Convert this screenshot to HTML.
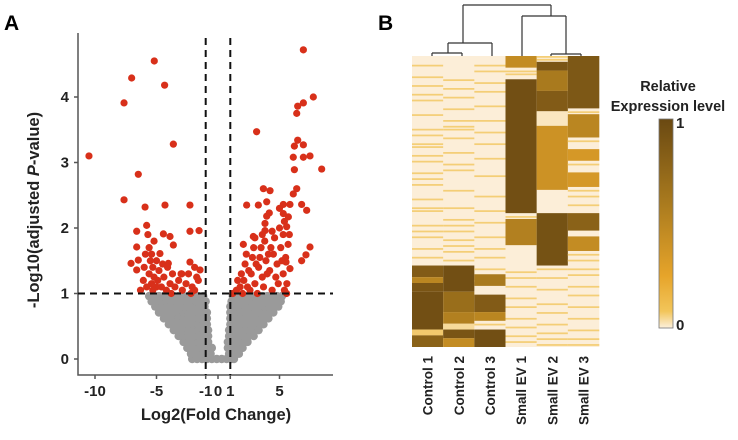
<!DOCTYPE html>
<html><head><meta charset="utf-8">
<style>
html,body{margin:0;padding:0;background:#fff;width:738px;height:440px;overflow:hidden}
svg{display:block;font-family:"Liberation Sans",Arial,sans-serif;font-weight:bold}
</style></head>
<body>
<svg id="fig" width="738" height="440" viewBox="0 0 738 440">
<defs>
<linearGradient id="cbar" x1="0" y1="1" x2="0" y2="0">
<stop offset="0" stop-color="#fcf0dc"/><stop offset="0.08" stop-color="#f2c55a"/>
<stop offset="0.25" stop-color="#e6a42a"/><stop offset="0.6" stop-color="#a97a1e"/>
<stop offset="1" stop-color="#6a4912"/></linearGradient>
</defs>
<text x="4" y="30" font-size="21">A</text>
<text x="378" y="30" font-size="21">B</text>
<g id="volcano"></g>
<g id="heat"></g>
</svg>
<script>
// ---------- Volcano data ----------
const xTicks = [-10, -5, -1, 0, 1, 5];
const yTicks = [0, 1, 2, 3, 4];
const redX = [6.94,-5.18,-7.02,-4.34,-7.64,7.75,6.94,6.48,6.40,-10.49,-3.63,3.14,6.48,6.21,6.94,6.12,6.94,7.48,8.43,-6.48,6.21,-7.64,-4.31,-2.28,-5.93,2.33,3.28,3.69,4.23,3.96,4.17,5.31,5.85,6.80,7.21,6.12,6.40,-6.61,-5.80,-4.44,-3.90,-2.28,-1.54,2.06,2.87,3.96,7.48,7.15,6.80,5.53,3.82,3.82,5.58,5.72,5.31,-6.61,-7.07,-6.48,-4.72,-3.63,-4.04,-2.95,-2.28,-1.46,-1.73,-6.07,-6.61,5.58,5.85,
-5.6,-5.4,-5.5,-5.3,-5.6,-5.2,-5.4,-5.0,-5.3,-4.9,-4.8,-5.0,-4.6,-4.4,-4.2,-3.9,-3.7,-3.5,-3.2,-2.9,-2.6,-2.4,-2.1,-1.9,-1.6,-5.8,-6.0,-5.9,-4.5,-3.8,-2.2,-6.3,-5.7,-5.2,-4.1,-3.0,-1.9,
1.5,1.8,2.1,2.4,2.7,3.0,3.3,3.6,3.9,4.2,4.5,4.8,5.1,5.3,5.0,4.6,4.3,4.0,3.7,3.4,3.1,2.8,2.5,2.2,1.9,1.6,2.0,2.6,3.2,4.4,4.9,5.3,5.5,5.7,5.6,5.4,4.1,3.5,2.9,4.7,5.2,5.8,3.0,3.6,4.4,5.0,5.4,1.2,2.3,3.8];
const redY = [4.72,4.55,4.29,4.18,3.91,4.0,3.91,3.86,3.75,3.10,3.28,3.47,3.34,3.25,3.27,3.08,3.08,3.10,2.90,2.82,2.89,2.43,2.35,2.35,2.32,2.35,2.35,2.60,2.57,2.40,2.23,2.36,2.36,2.36,2.27,2.52,2.60,1.95,2.04,1.91,1.87,1.95,1.96,1.75,1.87,2.18,1.71,1.59,1.50,1.48,1.96,2.07,2.02,2.17,2.22,1.71,1.46,1.51,1.61,1.74,1.46,1.30,1.48,1.36,1.25,1.20,1.36,1.00,1.38,
1.7,1.6,1.5,1.4,1.3,1.25,1.15,1.1,1.05,1.2,1.35,1.5,1.1,1.25,1.05,1.15,1.3,1.1,1.2,1.05,1.15,1.3,1.1,1.05,1.2,1.1,1.4,1.6,1.45,1.0,1.0,1.05,1.9,1.8,1.4,1.3,1.4,
1.05,1.1,1.2,1.1,1.3,1.15,1.4,1.25,1.5,1.35,1.6,1.45,1.7,1.9,2.0,1.85,1.7,1.3,1.1,1.55,1.45,1.55,1.35,1.45,1.3,1.2,1.0,1.05,1.0,1.05,1.15,1.3,1.55,1.75,1.15,1.05,1.6,1.7,1.7,1.25,1.5,1.9,1.85,1.9,1.95,2.3,2.1,1.0,1.6,1.8];
const grayLevels = [0,0.08,0.17,0.26,0.35,0.44,0.53,0.62,0.71,0.8,0.88,0.96];
const grayXs = [
 [-2.1,-1.7,-1.3,-0.9,-0.5,-0.1,0.3,0.7,1.1,1.3],
 [-2.2,-1.8,-1.4,-1.0,-0.6,0.9,1.3,1.7],
 [-2.5,-2.1,-1.7,-1.3,-0.9,-0.5,0.8,1.2,1.6,2.0],
 [-2.8,-2.4,-2.0,-1.6,-1.2,-0.8,0.8,1.2,1.6,2.0,2.4],
 [-3.2,-2.8,-2.4,-2.0,-1.6,-1.2,-0.8,0.9,1.3,1.7,2.1,2.5,2.9],
 [-3.6,-3.2,-2.8,-2.4,-2.0,-1.6,-1.2,-0.8,0.9,1.3,1.7,2.1,2.5,2.9,3.3],
 [-4.0,-3.6,-3.2,-2.8,-2.4,-2.0,-1.6,-1.2,-0.9,1.0,1.4,1.8,2.2,2.6,3.0,3.4,3.7],
 [-4.4,-4.0,-3.6,-3.2,-2.8,-2.4,-2.0,-1.6,-1.2,-0.9,1.0,1.4,1.8,2.2,2.6,3.0,3.4,3.8,4.1],
 [-4.8,-4.4,-4.0,-3.6,-3.2,-2.8,-2.4,-2.0,-1.6,-1.2,-0.9,1.0,1.4,1.8,2.2,2.6,3.0,3.4,3.8,4.2,4.5],
 [-5.1,-4.7,-4.3,-3.9,-3.5,-3.1,-2.7,-2.3,-1.9,-1.5,-1.1,1.0,1.4,1.8,2.2,2.6,3.0,3.4,3.8,4.2,4.6,4.9],
 [-5.4,-5.0,-4.6,-4.2,-3.8,-3.4,-3.0,-2.6,-2.2,-1.8,-1.4,-1.0,1.1,1.5,1.9,2.3,2.7,3.1,3.5,3.9,4.3,4.7,5.1],
 [-5.6,-5.2,-4.8,-4.4,-4.0,-3.6,-3.2,-2.8,-2.4,-2.0,-1.6,-1.2,1.2,1.6,2.0,2.4,2.8,3.2,3.6,4.0,4.4,4.8,5.2]
];
const xCut = [-1, 1];
const yCut = 1;

// ---------- Heatmap data (100 rows, segments: [startRow,endRow,value 0..1]) ----------
const sampleNames = ["Control 1","Control 2","Control 3","Small EV 1","Small EV 2","Small EV 3"];
const colBlocks = [
 [[72,76,0.85],[76,78,0.5],[78,81,0.9],[81,94,0.95],[94,96,0.1],[96,100,0.8]],
 [[72,81,0.95],[81,88,0.7],[88,92,0.55],[92,94,0.05],[94,97,0.9],[97,100,0.45]],
 [[75,79,0.6],[82,88,0.85],[88,91,0.5],[94,100,0.95]],
 [[0,4,0.45],[8,54,0.95],[56,65,0.55]],
 [[2,5,0.9],[5,12,0.6],[12,19,0.85],[19,24,0.02],[24,46,0.4],[54,72,0.93]],
 [[0,18,0.88],[20,28,0.5],[32,36,0.35],[40,45,0.35],[54,60,0.8],[62,67,0.45]]
];
const colStripes = [
 [3,7,10,13,15,20,25,27,30,31,34,36,40,42,44,49,52,53,58,60,62,66,69,98],
 [8,11,14,18,22,24,25,28,33,37,39,46,52,56,58,60,63,65,67,70,98],
 [3,5,9,12,17,22,26,30,35,41,48,53,57,62,66,69,73,77,92,97],
 [5,6,55,74,76,79,83,86,90,93,96,98],
 [0,1,73,76,80,85,88,92,95,97,99],
 [19,29,37,46,48,51,68,70,73,75,79,82,86,90,94,97,99]
];
const stripeVal = 0.08;
const baseVal = 0;
const cbTicks = [0, 1];

const NS = "http://www.w3.org/2000/svg";
function mk(tag, attrs, parent){const e=document.createElementNS(NS,tag);for(const k in attrs)e.setAttribute(k,attrs[k]);parent.appendChild(e);return e;}

// ---------- Volcano ----------
const V = document.getElementById('volcano');
const X0=218, XS=12.3, Y0=359, YS=65.5;
const sx = v => X0 + v*XS, sy = v => Y0 - v*YS;
const PL=78, PR=333, PT=33, PB=375;
grayLevels.forEach((lv,i)=>{
  grayXs[i].forEach(xv=>{
    const c=mk('circle',{cx:sx(xv),cy:sy(lv),r:4.2,fill:'#9a9a9a'},V);
    
    
  });
});
redX.forEach((xv,i)=>{
  const c=mk('circle',{cx:sx(xv),cy:sy(redY[i]),r:3.6,fill:'#d8301a'},V);
  
  
});
const ax=mk('path',{d:`M${PL},${PT} V${PB} H${PR}`,stroke:'#555',fill:'none','stroke-width':1.5},V);


yTicks.forEach(t=>{
  mk('line',{x1:PL-4,x2:PL,y1:sy(t),y2:sy(t),stroke:'#555','stroke-width':1.5},V);
  const tx=mk('text',{x:PL-9,y:sy(t)+5,'font-size':15,'text-anchor':'end',fill:'#222'},V);
  tx.textContent=t;
  
  
});
xTicks.forEach(t=>{
  mk('line',{x1:sx(t),x2:sx(t),y1:PB,y2:PB+4,stroke:'#555','stroke-width':1.5},V);
  const tx=mk('text',{x:sx(t),y:PB+21,'font-size':15,'text-anchor':'middle',fill:'#222'},V);
  tx.textContent=t;
  
  
});
xCut.forEach(c=>{
  const l=mk('line',{x1:sx(c),x2:sx(c),y1:PT+5,y2:PB,stroke:'#111','stroke-width':2,'stroke-dasharray':'7,5'},V);
  
  
});
const hl=mk('line',{x1:PL,x2:PR,y1:sy(yCut),y2:sy(yCut),stroke:'#111','stroke-width':2,'stroke-dasharray':'7,5'},V);


const xt=mk('text',{x:216,y:420,'font-size':16.5,'text-anchor':'middle',fill:'#222'},V);
xt.textContent='Log2(Fold Change)';


const yt=mk('text',{x:0,y:0,'font-size':16.5,'text-anchor':'middle',fill:'#222',transform:'translate(39,210) rotate(-90)'},V);
yt.innerHTML='-Log10(adjusted <tspan font-style="italic">P</tspan>-value)';



// ---------- Heatmap ----------
const H=document.getElementById('heat');
const HL=412, HR=599, HT=56, HB=347, NR=100;
const cw=(HR-HL)/sampleNames.length, rh=(HB-HT)/NR;
function lerp(a,b,t){return a+(b-a)*t;}
const stops=[[0,[252,238,216]],[0.08,[244,206,118]],[0.25,[230,164,42]],[0.6,[169,122,30]],[1,[106,73,18]]];
function colr(v){for(let i=1;i<stops.length;i++){if(v<=stops[i][0]){const a=stops[i-1],b=stops[i];const t=(v-a[0])/(b[0]-a[0]);return `rgb(${Math.round(lerp(a[1][0],b[1][0],t))},${Math.round(lerp(a[1][1],b[1][1],t))},${Math.round(lerp(a[1][2],b[1][2],t))})`;}}return 'rgb(106,73,18)';}
sampleNames.forEach((nm,c)=>{
  const x=HL+c*cw;
  const bg=mk('rect',{x:x,y:HT,width:cw+0.3,height:HB-HT,fill:colr(baseVal)},H);
  
  
  colStripes[c].forEach(r=>{
    const s=mk('rect',{x:x,y:HT+r*rh,width:cw+0.3,height:rh*0.6,fill:colr(stripeVal)},H);
    
    
  });
  colBlocks[c].forEach(b=>{
    const s=mk('rect',{x:x,y:HT+b[0]*rh,width:cw+0.3,height:(b[1]-b[0])*rh,fill:colr(b[2])},H);
    
    
  });
  const lab=mk('text',{x:0,y:0,'font-size':13.5,'text-anchor':'end',fill:'#222',transform:`translate(${x+cw/2+5},356) rotate(-90)`},H);
  lab.textContent=nm;
  
  
});
// dendrogram
const den=mk('path',{fill:'none',stroke:'#333','stroke-width':1.2,
 d:'M463,5 H551 M463,5 V43 M551,5 V16 M448,43 H492 M448,43 V53 M492,43 V56 M432,53 H462 M432,53 V56 M462,53 V56 M522,16 H566 M522,16 V56 M566,16 V54 M551,54 H581 M551,54 V56 M581,54 V56'},H);


// colorbar
const cb=mk('rect',{x:659,y:119,width:14,height:209,fill:'url(#cbar)',stroke:'#777','stroke-width':0.8},H);


cbTicks.forEach(t=>{
  const tx=mk('text',{x:676,y:328-t*202+2,'font-size':15,fill:'#222'},H);
  tx.textContent=t;
  
  
});
const t1=mk('text',{x:668,y:91,'font-size':14.5,'text-anchor':'middle',fill:'#222'},H);
t1.textContent='Relative';


const t2=mk('text',{x:668,y:111,'font-size':14.5,'text-anchor':'middle',fill:'#222'},H);
t2.textContent='Expression level';


</script>
</body></html>
